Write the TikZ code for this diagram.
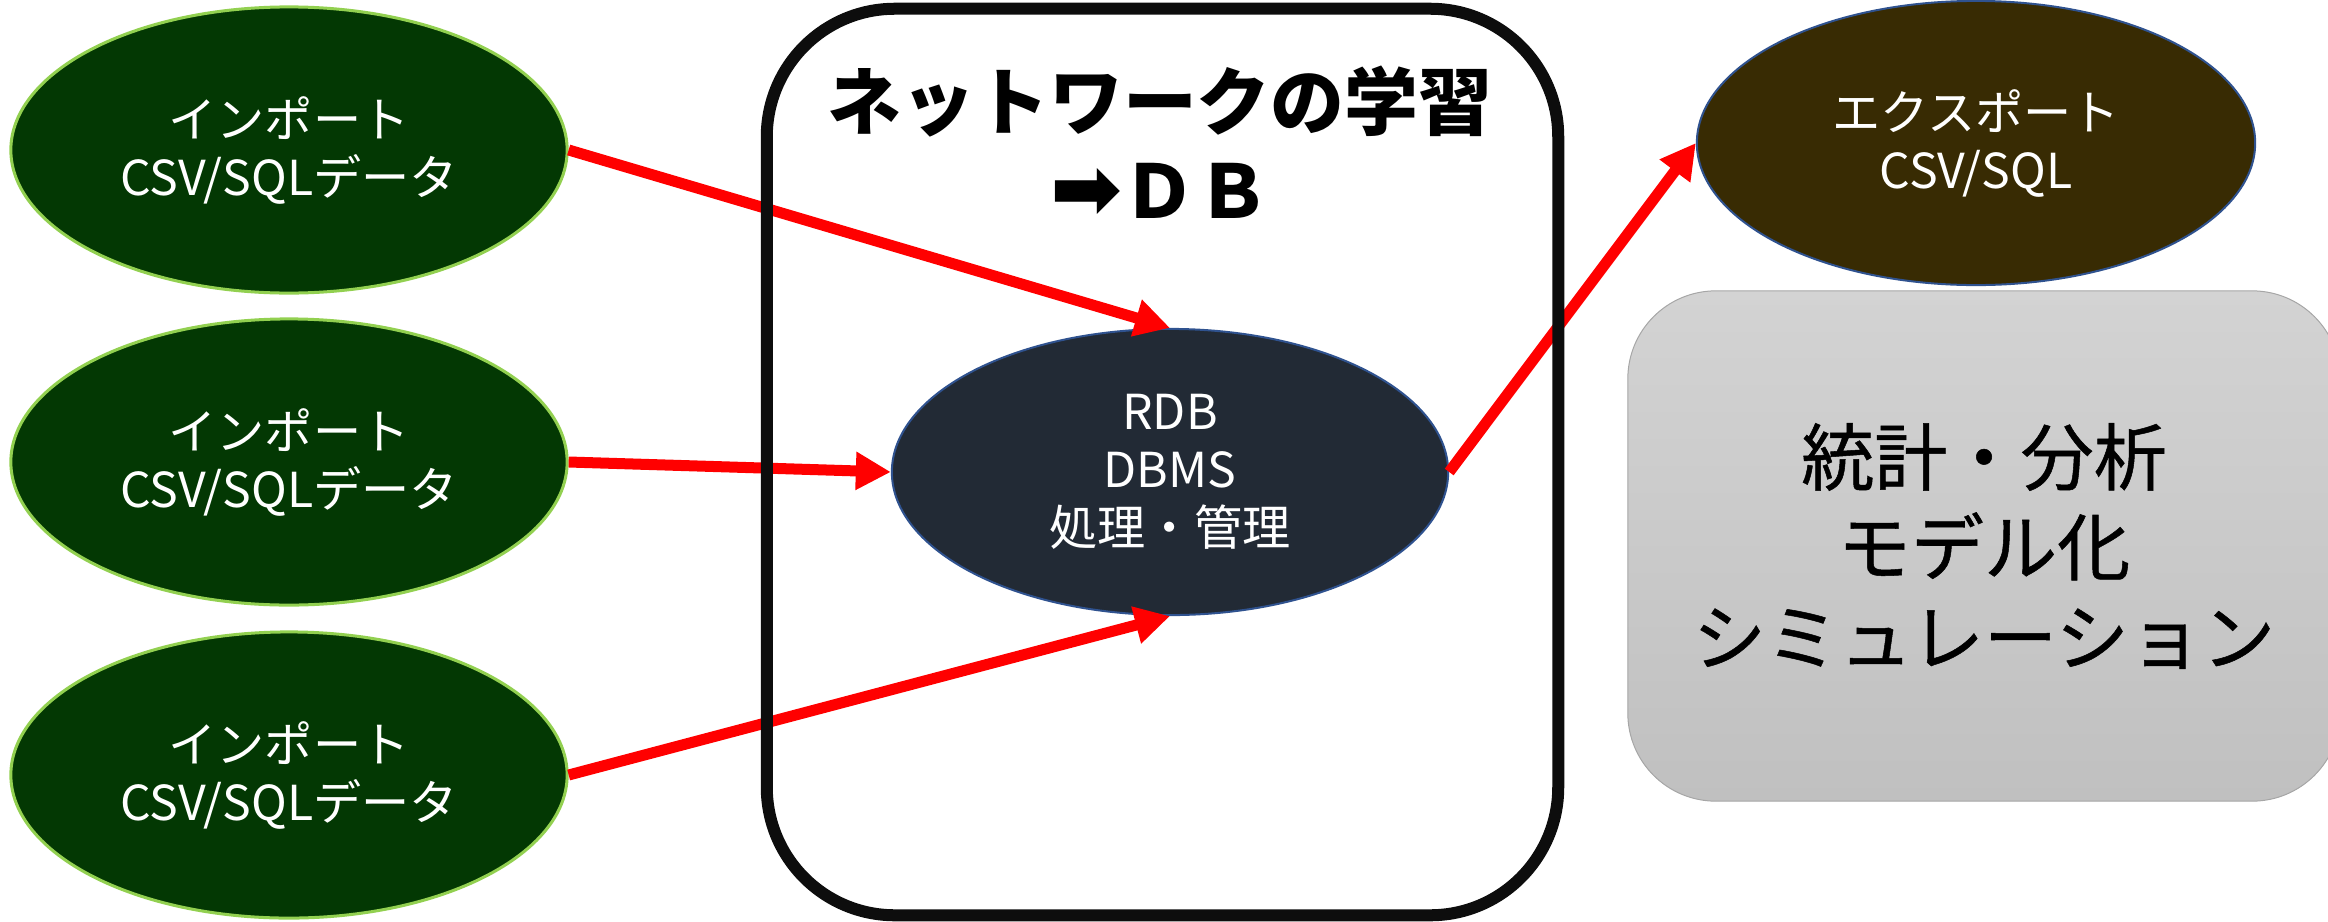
\documentclass[tikz,border=0pt]{standalone}
\usepackage{fontspec}
\newfontfamily\jp{Noto Sans CJK JP}
\newfontfamily\jpmed[FakeBold=0.7]{Noto Sans CJK JP}
\newfontfamily\dejavu{DejaVu Sans}
\usetikzlibrary{shapes.geometric,arrows.meta}
\definecolor{impfill}{RGB}{3,56,3}
\definecolor{impline}{RGB}{146,208,80}
\definecolor{rdbfill}{RGB}{34,42,53}
\definecolor{blueline}{RGB}{47,82,143}
\definecolor{expfill}{RGB}{56,43,3}
\definecolor{boxblack}{RGB}{13,13,13}
\definecolor{graytop}{RGB}{211,211,211}
\definecolor{graybot}{RGB}{192,192,192}
\definecolor{grayline}{RGB}{166,166,166}
\tikzset{
  ovalbase/.style={ellipse, inner sep=0pt, align=center, text=white,
    font=\jp\fontsize{13.7pt}{16.5pt}\selectfont},
  impoval/.style={ovalbase, fill=impfill, draw=impline, line width=0.03cm,
    minimum width=5.56cm, minimum height=2.86cm},
  rdboval/.style={ovalbase, fill=rdbfill, draw=blueline, line width=0.02cm,
    minimum width=5.56cm, minimum height=2.86cm},
  expoval/.style={ovalbase, fill=expfill, draw=blueline, line width=0.02cm,
    minimum width=5.58cm, minimum height=2.84cm},
  anabox/.style={rectangle, rounded corners=0.88cm, draw=grayline, line width=0.01cm,
    top color=graytop, bottom color=graybot, minimum width=7.12cm, minimum height=5.10cm,
    align=center, font=\jpmed\fontsize{20.8pt}{25.6pt}\selectfont},
  learnbox/.style={rectangle, rounded corners=1.28cm, draw=boxblack, line width=0.12cm,
    minimum width=7.91cm, minimum height=9.06cm, inner sep=0pt},
  titletext/.style={align=center, inner sep=0pt,
    font=\jp\bfseries\fontsize{21pt}{25.3pt}\selectfont},
  redarrow/.style={draw=red, line width=0.11cm,
    -{Triangle[length=0.35cm, width=0.36cm]}}
}
\begin{document}
\begin{tikzpicture}[x=0.01cm, y=-0.01cm]
\useasboundingbox (0,0) rectangle (2328,921);
\node[impoval] (imp1) at (289,150) {インポート\\CSV/SQLデータ};
\node[impoval] (imp2) at (289,462) {インポート\\CSV/SQLデータ};
\node[impoval] (imp3) at (289,775) {インポート\\CSV/SQLデータ};
\node[rdboval] (rdb) at (1170,472) {RDB\\DBMS\\処理・管理};
\node[expoval] (exp) at (1976,143) {エクスポート\\CSV/SQL};
\node[anabox] (ana) at (1984,546) {統計・分析\\モデル化\\シミュレーション};
\draw[redarrow] (imp1.east) -- (rdb.north);
\draw[redarrow] (imp2.east) -- (rdb.west);
\draw[redarrow] (imp3.east) -- (rdb.south);
\draw[redarrow] (rdb.east) -- (exp.west);
\node[learnbox] (learn) at (1162.5,462) {};
\node[titletext] (ttl) at (1160,142) {ネットワークの学習\\{\dejavu\bfseries\fontsize{24.5pt}{25.3pt}\selectfont ➡}ＤＢ};
\end{tikzpicture}
\end{document}
